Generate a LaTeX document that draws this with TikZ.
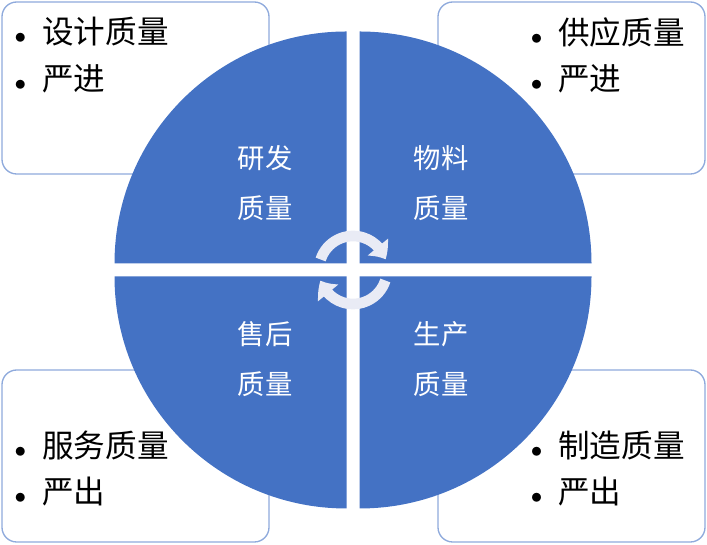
\documentclass[tikz,border=0pt]{standalone}
\usepackage{fontspec}
\newfontfamily\cjk{Noto Sans CJK SC}
\usetikzlibrary{arrows.meta,bending}

\definecolor{quadblue}{HTML}{4472C4}
\definecolor{boxline}{HTML}{8FAADC}
\definecolor{cyclegray}{HTML}{E9EBF5}

% bullet hung left of an item
\newcommand{\itm}[1]{\makebox[0pt][r]{{\fontsize{17}{17}\selectfont$\bullet$}\hspace{12pt}}#1}

\begin{document}
\begin{tikzpicture}[x=0.75pt, y=0.75pt,
  notebox/.style={draw=boxline, line width=1pt, fill=white, rounded corners=11pt},
  quad/.style={fill=quadblue},
  item/.style={anchor=west, inner sep=0pt, font=\cjk\fontsize{23.7}{28}\selectfont, text=black},
  quadlabel/.style={align=center, inner sep=0pt, text=white, font=\cjk\fontsize{20.5}{38}\selectfont},
  cycarrow/.style={draw=cyclegray, line width=8pt, -{Triangle[width=19pt,length=11pt,bend]}}]

\useasboundingbox (0,0) rectangle (707,545);

% Corner boxes
\draw[notebox] (2,371) rectangle (269,543);
\draw[notebox] (438,371) rectangle (705,543);
\draw[notebox] (2,3) rectangle (269,175);
\draw[notebox] (438,3) rectangle (705,175);

% Box items
\node[item] (design) at (42,513) {\itm{设计质量}};
\node[item] (inTL) at (42,466) {\itm{严进}};
\node[item] (supply) at (558,513) {\itm{供应质量}};
\node[item] (inTR) at (558,466) {\itm{严进}};
\node[item] (service) at (42,100) {\itm{服务质量}};
\node[item] (outBL) at (42,53) {\itm{严出}};
\node[item] (make) at (558,100) {\itm{制造质量}};
\node[item] (outBR) at (558,53) {\itm{严出}};

% Quarter circles
\fill[quad] (346.5,281.5) -- ++(-232,0) arc[start angle=180, end angle=90, radius=232] -- cycle;
\fill[quad] (359.5,281.5) -- ++(232,0) arc[start angle=0, end angle=90, radius=232] -- cycle;
\fill[quad] (346.5,268.5) -- ++(-232,0) arc[start angle=180, end angle=270, radius=232] -- cycle;
\fill[quad] (359.5,268.5) -- ++(232,0) arc[start angle=0, end angle=-90, radius=232] -- cycle;

% Quadrant labels
\node[quadlabel] (rd) at (265,362) {研发\\质量};
\node[quadlabel] (material) at (441,362) {物料\\质量};
\node[quadlabel] (aftersale) at (265,186) {售后\\质量};
\node[quadlabel] (produce) at (441,186) {生产\\质量};

% Center cycle
\coordinate (hub) at (353,275);
\draw[cycarrow] ([shift={(162:34)}]hub) arc[start angle=162, end angle=18, radius=34];
\draw[cycarrow] ([shift={(-18:34)}]hub) arc[start angle=-18, end angle=-162, radius=34];

\end{tikzpicture}
\end{document}
